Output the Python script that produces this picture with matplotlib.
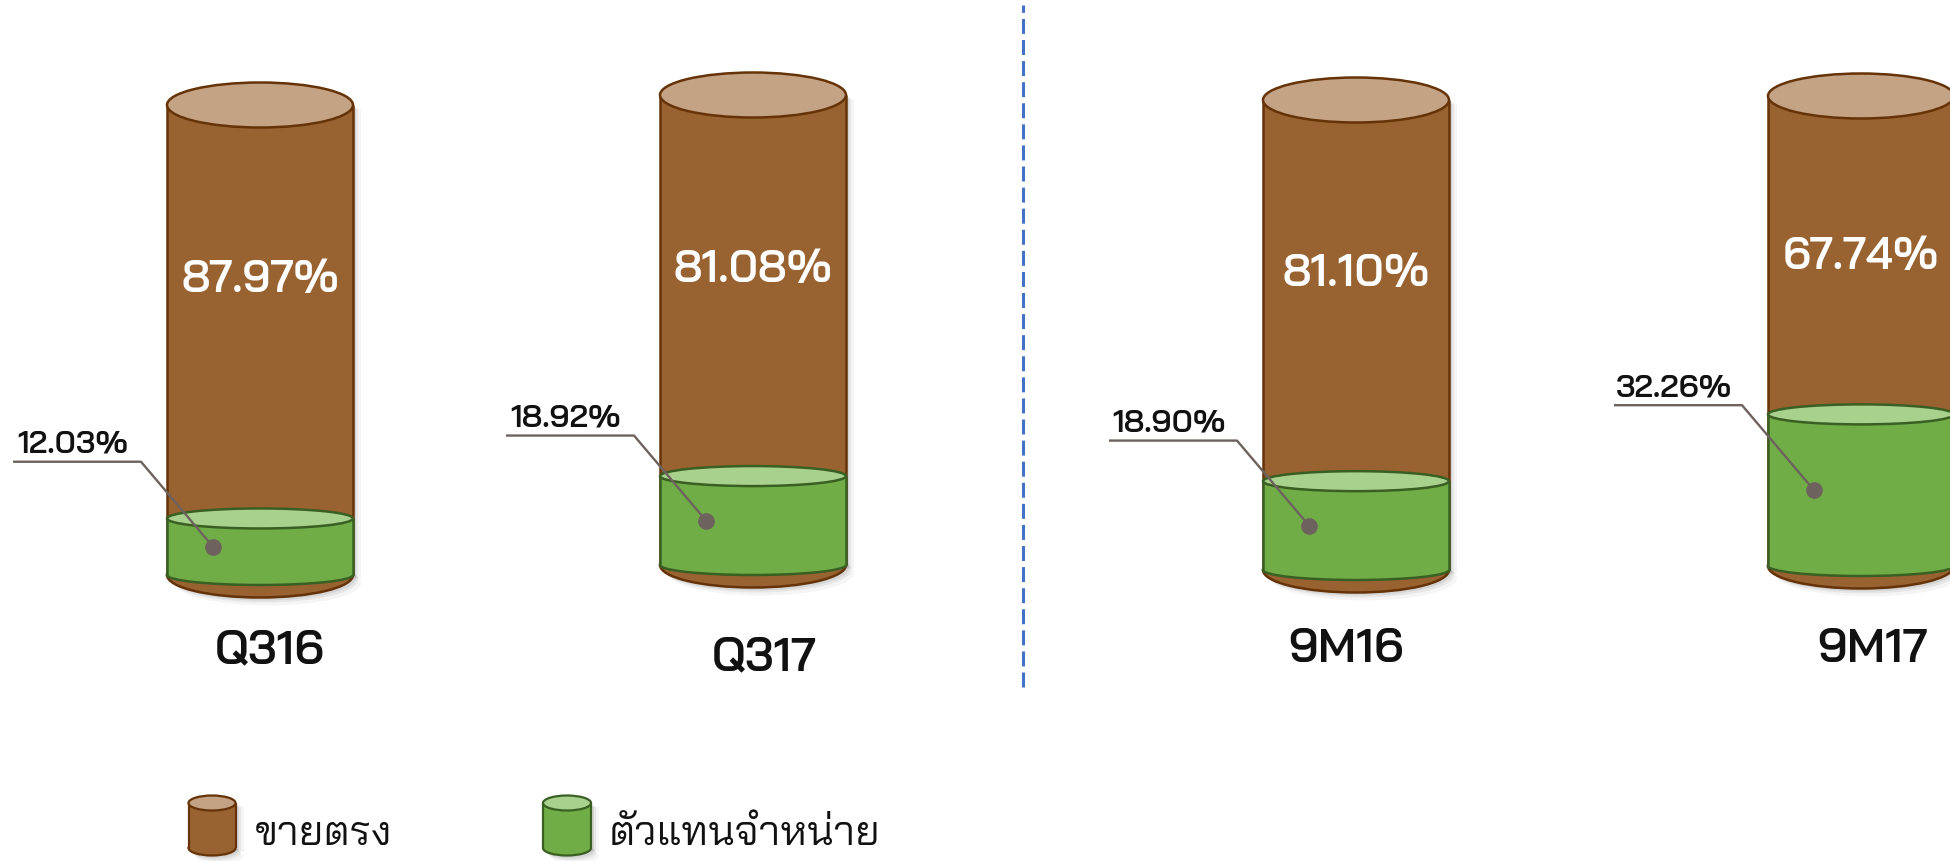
import matplotlib
matplotlib.use("Agg")
import matplotlib.pyplot as plt
from matplotlib.patches import Ellipse
from matplotlib import font_manager as fm

# ---------------- data ----------------
categories = ["Q316", "Q317", "9M16", "9M17"]
direct_sales = [87.97, 81.08, 81.10, 67.74]    # ขายตรง
dealers = [12.03, 18.92, 18.90, 32.26]         # ตัวแทนจำหน่าย
series_names = ["ขายตรง", "ตัวแทนจำหน่าย"]

# ---------------- fonts ----------------
names = {f.name for f in fm.fontManager.ttflist}
MAIN = "Bai Jamjuree" if "Bai Jamjuree" in names else "DejaVu Sans"
plt.rcParams["font.family"] = [MAIN, "DejaVu Sans"]

# ---------------- style / layout ----------------
BROWN, BROWN_TOP, BROWN_EDGE = "#986331", "#c4a284", "#653307"
GREEN, GREEN_TOP, GREEN_EDGE = "#70ad47", "#a9d18e", "#3a5f22"
LEADER = "#6d625d"

W, H = 1950, 862
PX = 4.7           # pixels per percent unit
BASE = 570         # pixel row of the cylinder base
centers = [260, 753, 1356, 1861]
shift_px = [6, -4, 1, -3]
big_y_px = [281, 271, 275, 258]
label_xy_px = [(270, 652), (764, 659), (1346, 651), (1872, 651)]
RW = 186
EH_B = 45 / PX
EH_G = 20 / PX

fig = plt.figure(figsize=(W / 100, H / 100), dpi=100)
ax = fig.add_axes([0, 0, 1, 1])
ax.set_xlim(0, W)
ax.set_ylim(-(H - BASE) / PX, BASE / PX)
ax.axis("off")


def u(px):
    return (BASE - px) / PX


def cylinder(cx, bottom, height, width, eh_bot, eh_top, body, top, edge, z, lw=1.8,
             shadow=False):
    if shadow:
        for k, a in [(8, 0.04), (5, 0.06), (3, 0.07)]:
            ax.bar(cx + k, height, bottom=bottom - k / PX / 2, width=width, color="k",
                   alpha=a, lw=0, zorder=z - 0.5)
            ax.add_patch(Ellipse((cx + k, bottom - k / PX), width, eh_bot, fc="k",
                                 alpha=a, lw=0, zorder=z - 0.5))
    ax.add_patch(Ellipse((cx, bottom), width, eh_bot, fc=body, ec=edge, lw=lw, zorder=z))
    ax.bar(cx, height, bottom=bottom, width=width, color=body, lw=0, zorder=z + 0.1)
    ax.vlines([cx - width / 2, cx + width / 2], bottom, bottom + height,
              color=edge, lw=lw, zorder=z + 0.2)
    ax.add_patch(Ellipse((cx, bottom + height), width, eh_top, fc=top, ec=edge, lw=lw,
                         zorder=z + 0.3))


for i, cat in enumerate(categories):
    cx = centers[i]
    y0 = -shift_px[i] / PX
    total = direct_sales[i] + dealers[i]
    cylinder(cx, y0, total, RW, EH_B, EH_B, BROWN, BROWN_TOP, BROWN_EDGE, 2, shadow=True)
    cylinder(cx, y0, dealers[i], RW, EH_G, EH_G, GREEN, GREEN_TOP, GREEN_EDGE, 4)

    # direct-sales value inside the brown body
    ax.text(cx, u(big_y_px[i]), f"{direct_sales[i]:.2f}%", color="white",
            fontsize=32, fontweight="semibold", ha="center", va="center", zorder=10)

    # dealer value with leader line
    dx_, dy_ = cx - 47, y0 + dealers[i] / 2
    ex, ey = dx_ - 72, dy_ + 85 / PX
    sx = ex - 128
    ax.plot([sx, ex, dx_], [ey, ey, dy_], color=LEADER, lw=1.7, zorder=11,
            solid_capstyle="butt")
    ax.plot([dx_], [dy_], "o", color=LEADER, ms=11, zorder=12)
    ax.text((sx + ex) / 2 - 4, ey + 4 / PX, f"{dealers[i]:.2f}%", color="#111111",
            fontsize=23, fontweight="semibold", ha="center", va="bottom", zorder=12)

    # category label
    lx, ly = label_xy_px[i]
    ax.text(lx, u(ly), cat, fontsize=34, fontweight="semibold", color="#111111",
            ha="center", va="center", zorder=10)

# dashed separator
ax.axvline(1023, ymin=1 - 688 / H, ymax=1 - 6 / H, color="#4472c4", lw=2.2,
           dashes=(4.9, 2.0), zorder=1)

# legend
leg_icons = [(212, 47, BROWN, BROWN_TOP, BROWN_EDGE), (567, 48, GREEN, GREEN_TOP, GREEN_EDGE)]
leg_text_x = [255, 609]
for (ix, iw, b, t, e), name, tx in zip(leg_icons, series_names, leg_text_x):
    cylinder(ix, u(849), u(804) - u(849), iw, 15 / PX, 15 / PX, b, t, e, 20, lw=1.6,
             shadow=True)
    ax.text(tx, u(834), name, fontsize=30, color="#111111", ha="left", va="center",
            zorder=25)

fig.savefig("out.png", dpi=100, facecolor="white")
